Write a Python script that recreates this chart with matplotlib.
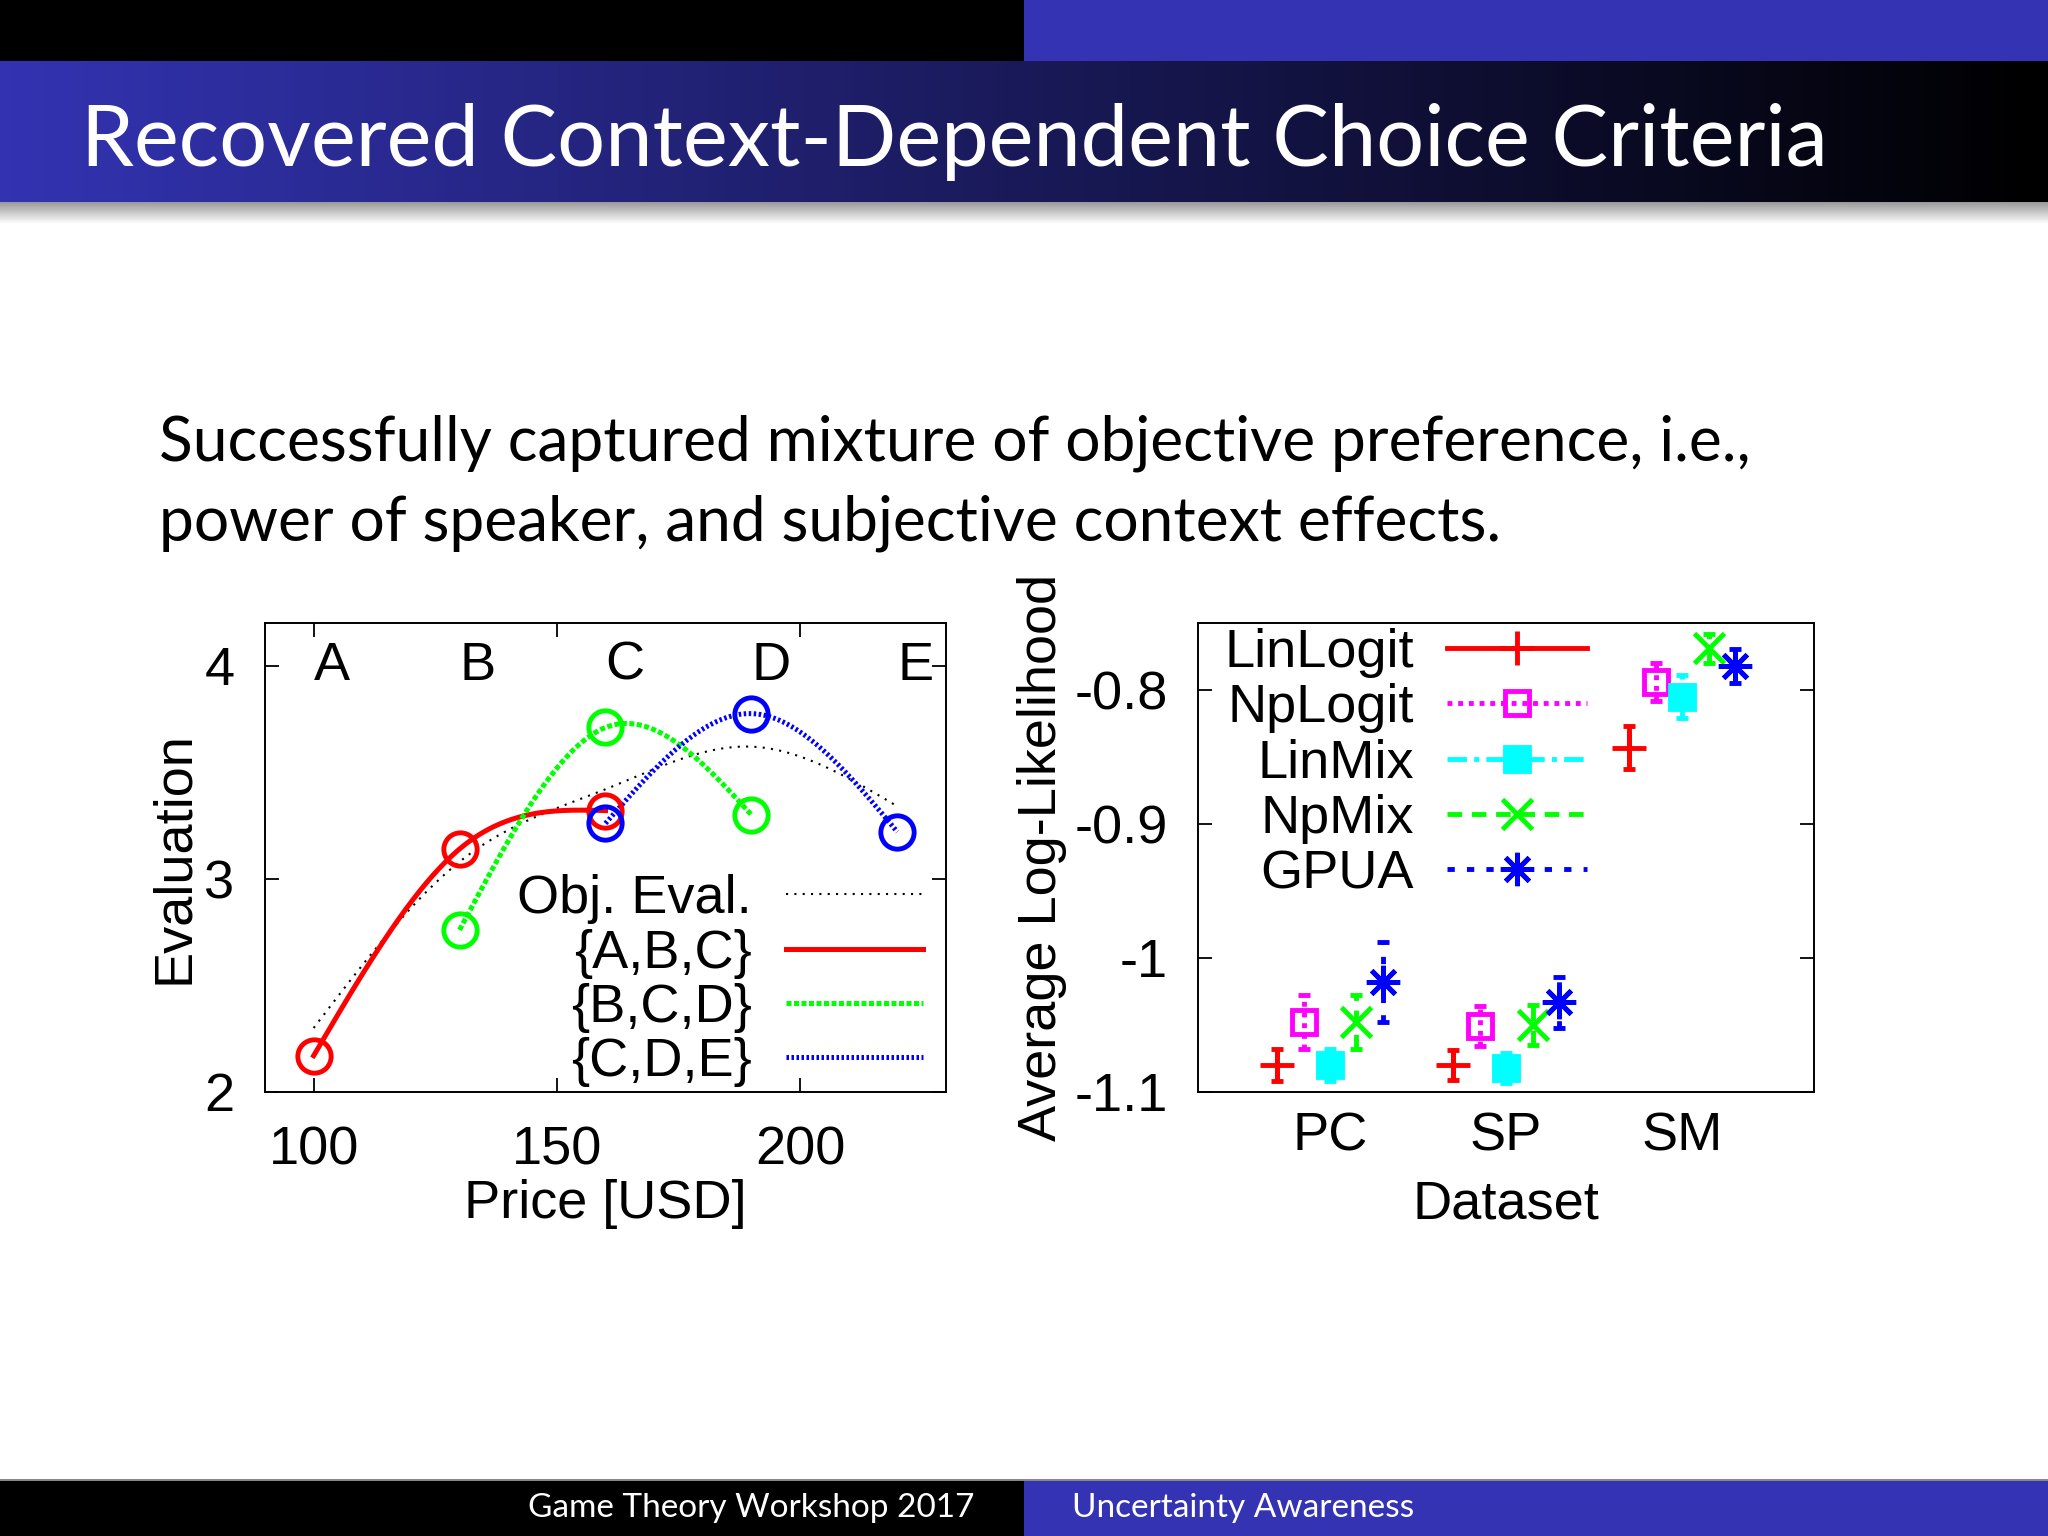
import numpy as np
import matplotlib
matplotlib.use("Agg")
import matplotlib.pyplot as plt
from matplotlib.lines import Line2D
from matplotlib.patches import Rectangle

# ---- data: left chart (evaluation vs price) ----
prices = [100, 130, 160, 190, 220]
option_names = ["A", "B", "C", "D", "E"]
obj_eval = [2.30, 3.08, 3.42, 3.62, 3.34]
eval_abc = [2.17, 3.14, 3.32]      # options A, B, C
eval_bcd = [2.76, 3.71, 3.30]      # options B, C, D
eval_cde = [3.26, 3.775, 3.22]     # options C, D, E

# ---- data: right chart (average log-likelihood per dataset) ----
datasets = ["PC", "SP", "SM"]
methods = ["LinLogit", "NpLogit", "LinMix", "NpMix", "GPUA"]
linlogit_mean = [-1.080, -1.080, -0.843]
linlogit_err = [0.012, 0.011, 0.016]
nplogit_mean = [-1.048, -1.051, -0.794]
nplogit_err = [0.020, 0.015, 0.0145]
linmix_mean = [-1.080, -1.082, -0.805]
linmix_err = [0.012, 0.011, 0.016]
npmix_mean = [-1.048, -1.050, -0.769]
npmix_err = [0.020, 0.015, 0.011]
gpua_mean = [-1.018, -1.033, -0.782]
gpua_err = [0.030, 0.019, 0.0125]


def natural_spline(x, y, n=200):
  # natural cubic spline, like gnuplot's "smooth csplines"
  x = np.asarray(x, float)
  y = np.asarray(y, float)
  k = len(x)
  h = np.diff(x)
  A = np.zeros((k, k))
  r = np.zeros(k)
  A[0, 0] = A[-1, -1] = 1
  for i in range(1, k - 1):
    A[i, i - 1] = h[i - 1]
    A[i, i] = 2 * (h[i - 1] + h[i])
    A[i, i + 1] = h[i]
    r[i] = 6 * ((y[i + 1] - y[i]) / h[i] - (y[i] - y[i - 1]) / h[i - 1])
  M = np.linalg.solve(A, r)
  xs = np.linspace(x[0], x[-1], n)
  idx = np.clip(np.searchsorted(x, xs) - 1, 0, k - 2)
  x0, x1 = x[idx], x[idx + 1]
  hh = x1 - x0
  a = (x1 - xs) / hh
  b = (xs - x0) / hh
  ys = a * y[idx] + b * y[idx + 1] + ((a**3 - a) * M[idx] + (b**3 - b) * M[idx + 1]) * hh**2 / 6
  return xs, ys


BLUE = "#3333B3"
slide_font = ["Lato", "DejaVu Sans"]
chart_font = ["Liberation Sans", "DejaVu Sans"]

fig = plt.figure(figsize=(20.48, 15.36), dpi=100)

# ---- slide decoration, in pixel coordinates ----
bg = fig.add_axes([0, 0, 1, 1], zorder=0)
bg.set_xlim(0, 2048)
bg.set_ylim(1536, 0)
bg.axis("off")
bg.add_patch(Rectangle((0, 0), 1024, 61, color="black", lw=0))
bg.add_patch(Rectangle((1024, 0), 1024, 61, color=BLUE, lw=0))
grad = np.linspace(0, 1, 256)
blue_rgb = np.array([0.2, 0.2, 0.7])
bar = (1 - grad)[None, :, None] * blue_rgb[None, None, :]
bg.imshow(bar, extent=(0, 2048, 202, 61), aspect="auto", interpolation="bilinear")
shade = np.linspace(0.6, 1.0, 64)
shadow = np.repeat(shade[:, None, None], 3, axis=2)
bg.imshow(shadow, extent=(0, 2048, 224, 202), aspect="auto", interpolation="bilinear")
bg.add_patch(Rectangle((0, 1479), 2048, 2, color="#888888", lw=0))
bg.add_patch(Rectangle((0, 1481), 1024, 55, color="black", lw=0))
bg.add_patch(Rectangle((1024, 1481), 1024, 55, color=BLUE, lw=0))
bg.set_xlim(0, 2048)
bg.set_ylim(1536, 0)

bg.text(81, 166, "Recovered Context-Dependent Choice Criteria", color="white",
        fontsize=61, family=slide_font, va="baseline", ha="left")
bg.text(159, 460, "Successfully captured mixture of objective preference, i.e.,",
        fontsize=44.8, family=slide_font, va="baseline", ha="left")
bg.text(159, 540, "power of speaker, and subjective context effects.",
        fontsize=44.8, family=slide_font, va="baseline", ha="left")
bg.text(974, 1508, "Game Theory Workshop 2017", color="white", fontsize=24,
        family=slide_font, va="center", ha="right")
bg.text(1072, 1508, "Uncertainty Awareness", color="white", fontsize=24,
        family=slide_font, va="center", ha="left")

FS = 39


def right_align_legend(leg):
  for col in leg._legend_handle_box.get_children():
    col.align = "right"


# ---- left chart ----
ax1 = fig.add_axes([0.1294, 0.2891, 0.3325, 0.3053], zorder=1)
xs, ys = natural_spline(prices, obj_eval)
ax1.plot(xs, ys, color="black", lw=1.5, ls=(0, (1, 3)), label="Obj. Eval.")
xs, ys = natural_spline(prices[0:3], eval_abc)
ax1.plot(xs, ys, color="#FF0000", lw=3.6, ls="-", label="{A,B,C}")
xs, ys = natural_spline(prices[1:4], eval_bcd)
ax1.plot(xs, ys, color="#00FF00", lw=3.6, ls=(0, (1, 0.5)), label="{B,C,D}")
xs, ys = natural_spline(prices[2:5], eval_cde)
ax1.plot(xs, ys, color="#0000FF", lw=3.6, ls=(0, (0.5, 0.5)), label="{C,D,E}")
ax1.plot(prices[0:3], eval_abc, "o", ms=24, mfc="none", mec="#FF0000", mew=3.5)
ax1.plot(prices[1:4], eval_bcd, "o", ms=24, mfc="none", mec="#00FF00", mew=3.5)
ax1.plot(prices[2:5], eval_cde, "o", ms=24, mfc="none", mec="#0000FF", mew=3.5)
for p, name in zip(prices, option_names):
  ax1.text(p, 4.0, name, ha="left", va="center", fontsize=FS, family=chart_font)

ax1.set_xlim(90, 230)
ax1.set_ylim(2, 4.2)
ax1.set_xticks([100, 150, 200])
ax1.set_yticks([2, 3, 4])
ax1.tick_params(direction="in", length=10, width=1.3, top=True, right=True,
                labelsize=FS)
ax1.tick_params(axis="x", pad=24)
ax1.tick_params(axis="y", pad=22)
for lab in ax1.get_xticklabels() + ax1.get_yticklabels():
  lab.set_family(chart_font)
for s in ax1.spines.values():
  s.set_linewidth(1.4)
ax1.set_xlabel("Price [USD]", fontsize=FS, family=chart_font, va="center")
ax1.set_ylabel("Evaluation", fontsize=FS, family=chart_font, va="center")
ax1.xaxis.set_label_coords(0.5, -0.24)
ax1.yaxis.set_label_coords(-0.134, 0.5)
leg1 = ax1.legend(loc="lower right", bbox_to_anchor=(0.966, 0.01), frameon=False,
                  markerfirst=False, prop={"family": chart_font, "size": FS},
                  handlelength=2.53, handletextpad=0.62, labelspacing=0.08,
                  borderpad=0, borderaxespad=0)
right_align_legend(leg1)

# ---- right chart ----
ax2 = fig.add_axes([0.585, 0.2891, 0.3008, 0.3053], zorder=1)
group_x = np.arange(1, len(datasets) + 1)
series = [
  (linlogit_mean, linlogit_err, "#FF0000", "+", "none", "-", 24),
  (nplogit_mean, nplogit_err, "#FF00FF", "s", "none", (0, (1, 1.2)), 17),
  (linmix_mean, linmix_err, "#00FFFF", "s", "#00FFFF", (0, (4, 1.5, 1, 1.5)), 17),
  (npmix_mean, npmix_err, "#00FF00", "x", "none", (0, (3, 2)), 22),
  (gpua_mean, gpua_err, "#0000FF", (8, 2, 0), "none", (0, (1.5, 2.5)), 24),
]
handles = []
for i, (mean, err, col, mk, mfc, ls, ms) in enumerate(series):
  x = group_x + (i - 2) * 0.15
  cont = ax2.errorbar(x, mean, yerr=err, fmt="none", ecolor=col, elinewidth=3.5,
                      capsize=4, capthick=3.5)
  cont[2][0].set_linestyle(ls)
  ax2.plot(x, mean, ls="none", marker=mk, ms=ms, mec=col,
           mfc=(col if mfc != "none" else "none"), mew=3.5)
  handles.append(Line2D([], [], color=col, lw=3.5, ls=ls, marker=mk, ms=ms, mec=col,
                        mfc=(col if mfc != "none" else "none"), mew=3.5))

ax2.set_xlim(0.25, 3.75)
ax2.set_ylim(-1.1, -0.75)
ax2.set_xticks(group_x)
ax2.set_xticklabels(datasets)
ax2.set_yticks([-1.1, -1.0, -0.9, -0.8])
ax2.set_yticklabels(["-1.1", "-1", "-0.9", "-0.8"])
ax2.tick_params(axis="y", direction="in", length=10, width=1.3, right=True,
                labelsize=FS, pad=22)
ax2.tick_params(axis="x", length=0, labelsize=FS, pad=14)
for lab in ax2.get_xticklabels() + ax2.get_yticklabels():
  lab.set_family(chart_font)
for s in ax2.spines.values():
  s.set_linewidth(1.4)
ax2.set_xlabel("Dataset", fontsize=FS, family=chart_font, va="center")
ax2.set_ylabel("Average Log-Likelihood", fontsize=FS, family=chart_font, va="center")
ax2.xaxis.set_label_coords(0.5, -0.24)
ax2.yaxis.set_label_coords(-0.253, 0.5)
leg2 = ax2.legend(handles, methods, loc="upper right", bbox_to_anchor=(0.632, 0.99),
                  frameon=False, markerfirst=False,
                  prop={"family": chart_font, "size": FS},
                  handlelength=2.6, handletextpad=0.6, labelspacing=0.1,
                  borderpad=0, borderaxespad=0)
right_align_legend(leg2)

fig.savefig("out.png", dpi=100)
